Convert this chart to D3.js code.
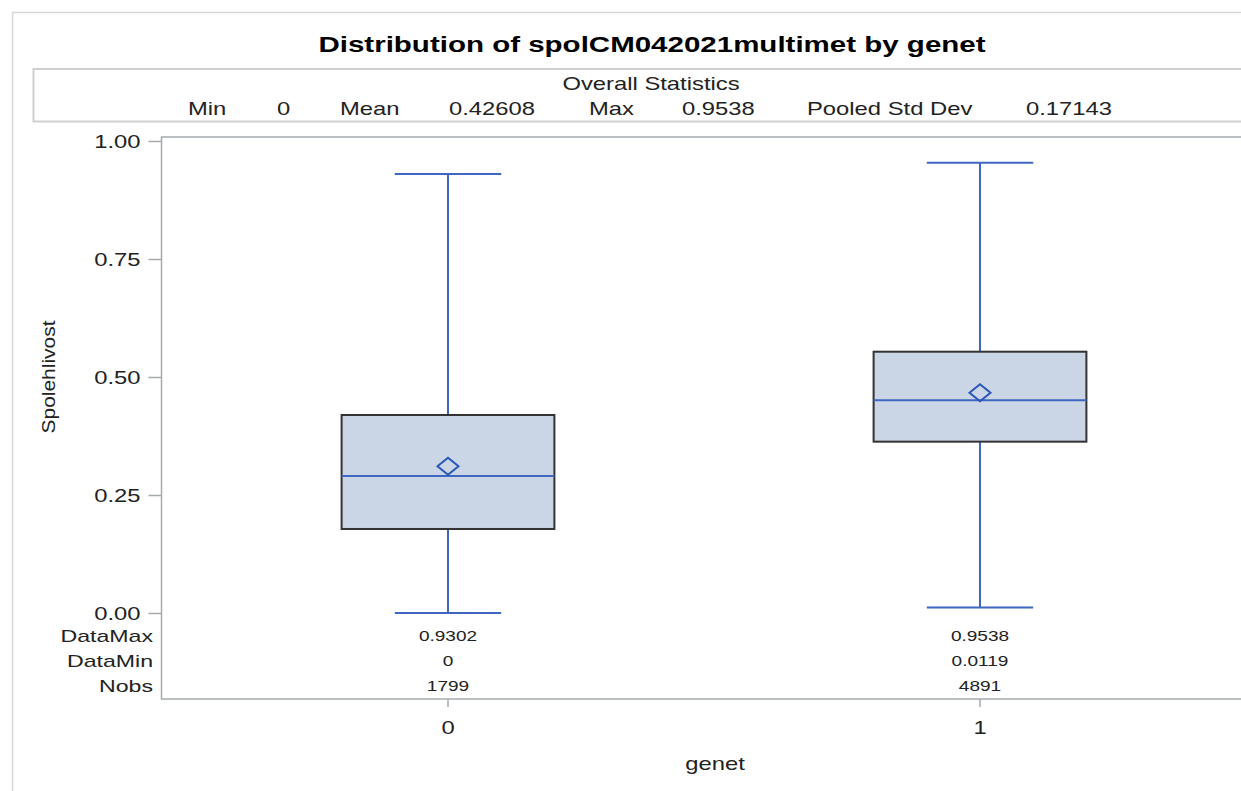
<!DOCTYPE html>
<html>
<head>
<meta charset="utf-8">
<script src="https://cdn.jsdelivr.net/npm/d3@7"></script>
<style>
  body { margin: 0; background: #fff; }
  svg { display: block; font-family: "Liberation Sans", Arial, sans-serif; }
</style>
</head>
<body>
<svg id="chart" width="1241" height="791"></svg>
<script>
// data
const genets = ["0", "1"];
const q1 = [0.178, 0.363];
const medians = [0.290, 0.451];
const q3 = [0.4195, 0.5536];
const means = [0.311, 0.4667];
const whiskerLow = [0, 0.0119];
const whiskerHigh = [0.9302, 0.9538];
const dataMaxText = ["0.9302", "0.9538"];
const dataMinText = ["0", "0.0119"];
const nobsText = ["1799", "4891"];
const yTicks = [0, 0.25, 0.5, 0.75, 1];
const statLabels = ["Min", "0", "Mean", "0.42608", "Max", "0.9538", "Pooled Std Dev", "0.17143"];
const insetRows = ["DataMax", "DataMin", "Nobs"];

const SX = 1.36; // picture is stretched sideways
const blue = "#3f66c2";

const svg = d3.select("#chart");

function putText(sel, x, y) {
    return sel.attr("x", 0).attr("y", 0)
        .attr("transform", `translate(${x},${y}) scale(${SX},1)`);
}

// frames
svg.append("rect").attr("x", 12.5).attr("y", 12.5).attr("width", 1300).attr("height", 900)
    .attr("fill", "none").attr("stroke", "#d6d6d6").attr("stroke-width", 1.5);

svg.append("rect").attr("x", 33.5).attr("y", 69).attr("width", 1300).attr("height", 52.5)
    .attr("fill", "none").attr("stroke", "#cfcfcf").attr("stroke-width", 2);

// title
putText(svg.append("text"), 652, 52)
    .attr("text-anchor", "middle").attr("font-size", 21.7).attr("font-weight", "bold")
    .attr("fill", "#000")
    .text("Distribution of spolCM042021multimet by genet");

// overall stats
putText(svg.append("text"), 651, 90)
    .attr("text-anchor", "middle").attr("font-size", 17.5).attr("fill", "#222")
    .text("Overall Statistics");

const statX = [188, 277, 340, 449, 589, 682, 807, 1026];
statLabels.forEach((s, i) => {
    putText(svg.append("text"), statX[i], 115)
        .attr("font-size", 17.5).attr("fill", "#222").text(s);
});

// scales
const y = d3.scaleLinear().domain([0, 1]).range([613, 141]);
const x = d3.scaleBand().domain(genets).range([182, 1246]).paddingInner(0.6).paddingOuter(0.3);
const cx = d => x(d) + x.bandwidth() / 2;

// plot frame
const plotLeft = 161.5, plotTop = 137, plotBottom = 699;
svg.append("rect").attr("x", plotLeft).attr("y", plotTop).attr("width", 1200)
    .attr("height", plotBottom - plotTop)
    .attr("fill", "none").attr("stroke", "#a4abae").attr("stroke-width", 1.5);

// y axis
const yAxis = svg.append("g").attr("transform", `translate(${plotLeft},0)`)
    .call(d3.axisLeft(y).tickValues(yTicks).tickFormat(d3.format(".2f")).tickSize(13));
yAxis.select(".domain").remove();
yAxis.selectAll(".tick line").attr("stroke", "#a4abae").attr("stroke-width", 1.5);
yAxis.selectAll(".tick text").each(function () {
    putText(d3.select(this), -21, 6.5).attr("dy", null);
}).attr("font-size", 17.5).attr("fill", "#222").attr("font-family", null);

// y label
svg.append("text")
    .attr("transform", "translate(55,377) rotate(-90)")
    .attr("text-anchor", "middle").attr("font-size", 19).attr("fill", "#222")
    .attr("textLength", 113).attr("lengthAdjust", "spacingAndGlyphs")
    .text("Spolehlivost");

// x axis
const xAxis = svg.append("g").attr("transform", `translate(0,${plotBottom})`)
    .call(d3.axisBottom(x).tickSize(8));
xAxis.select(".domain").remove();
xAxis.selectAll(".tick line").attr("stroke", "#a4abae").attr("stroke-width", 1.5);
xAxis.selectAll(".tick text").each(function () {
    putText(d3.select(this), 0, 35).attr("dy", null);
}).attr("font-size", 17.5).attr("fill", "#222").attr("font-family", null);

putText(svg.append("text"), 715, 770)
    .attr("text-anchor", "middle").attr("font-size", 17.5).attr("fill", "#222")
    .text("genet");

// boxes
const capHalf = x.bandwidth() / 4;
const boxes = svg.append("g");
genets.forEach((g, i) => {
    const c = cx(g);
    const bx = boxes.append("g");
    // whiskers
    bx.append("line").attr("x1", c).attr("x2", c).attr("y1", y(q3[i])).attr("y2", y(whiskerHigh[i]))
        .attr("stroke", blue).attr("stroke-width", 2);
    bx.append("line").attr("x1", c).attr("x2", c).attr("y1", y(q1[i])).attr("y2", y(whiskerLow[i]))
        .attr("stroke", blue).attr("stroke-width", 2);
    bx.append("line").attr("x1", c - capHalf).attr("x2", c + capHalf)
        .attr("y1", y(whiskerHigh[i])).attr("y2", y(whiskerHigh[i]))
        .attr("stroke", blue).attr("stroke-width", 2);
    bx.append("line").attr("x1", c - capHalf).attr("x2", c + capHalf)
        .attr("y1", y(whiskerLow[i])).attr("y2", y(whiskerLow[i]))
        .attr("stroke", blue).attr("stroke-width", 2);
    // box
    bx.append("rect").attr("x", x(g)).attr("width", x.bandwidth())
        .attr("y", y(q3[i])).attr("height", y(q1[i]) - y(q3[i]))
        .attr("fill", "#cad5e5").attr("stroke", "#333").attr("stroke-width", 2);
    bx.append("line").attr("x1", x(g)).attr("x2", x(g) + x.bandwidth())
        .attr("y1", y(medians[i])).attr("y2", y(medians[i]))
        .attr("stroke", blue).attr("stroke-width", 2);
    // mean diamond
    const my = y(means[i]);
    const p = d3.path();
    p.moveTo(c - 10.5, my); p.lineTo(c, my - 8.5); p.lineTo(c + 10.5, my); p.lineTo(c, my + 8.5); p.closePath();
    bx.append("path").attr("d", p.toString()).attr("fill", "none")
        .attr("stroke", "#2a55b8").attr("stroke-width", 2);
});

// inset table under the boxes
const rowY = [642, 667, 692];
const rowValues = [dataMaxText, dataMinText, nobsText];
insetRows.forEach((r, j) => {
    putText(svg.append("text"), 153, rowY[j])
        .attr("text-anchor", "end").attr("font-size", 17).attr("fill", "#222").text(r);
    genets.forEach((g, i) => {
        putText(svg.append("text"), cx(g), rowY[j] - 1)
            .attr("text-anchor", "middle").attr("font-size", 14).attr("fill", "#222")
            .text(rowValues[j][i]);
    });
});
</script>
</body>
</html>
